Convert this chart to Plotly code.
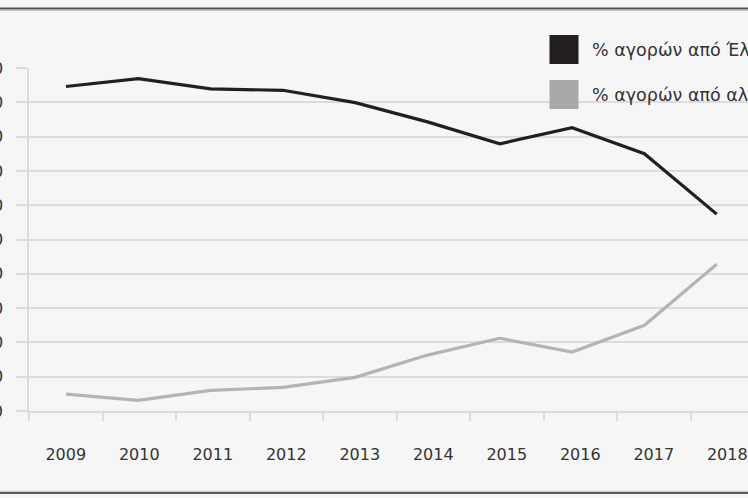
import plotly.graph_objects as go

years = ["2009", "2010", "2011", "2012", "2013", "2014", "2015", "2016", "2017", "2018"]
greek_buyers = [94.6, 96.9, 93.9, 93.5, 89.9, 84.3, 77.9, 82.6, 75.0, 57.4]
foreign_buyers = [4.9, 3.1, 6.0, 6.9, 9.8, 16.3, 21.2, 17.2, 25.0, 42.8]
series_names = ["% αγορών από Έλληνες", "% αγορών από αλλοδαπούς"]
y_ticks = [0, 10, 20, 30, 40, 50, 60, 70, 80, 90, 100]

BLACK = "#231f20"
GRAY_LINE = "#b4b4b4"
GRAY_BOX = "#a9a9a9"
GRID = "#dcdcdc"
BG = "#f6f6f6"
FONT = "DejaVu Sans"
FS = 16
FS_LEG = 17.5
TXT = "#333333"

W, H = 748, 498
L, R, T, B = 29, 0, 68, 87
pw, ph = W - L - R, H - T - B


def px_x(x):
    return (x - L) / pw


def px_y(y):
    return (H - B - y) / ph


fig = go.Figure()
# empty trace that attaches the labelled axis pair (x, y)
fig.add_trace(go.Scatter(x=[], y=[], xaxis="x", yaxis="y", showlegend=False, hoverinfo="skip"))
fig.add_trace(go.Scatter(x=years, y=greek_buyers, name=series_names[0], mode="lines",
                         line=dict(color=BLACK, width=3.2), xaxis="x2", yaxis="y",
                         showlegend=False))
fig.add_trace(go.Scatter(x=years, y=foreign_buyers, name=series_names[1], mode="lines",
                         line=dict(color=GRAY_LINE, width=3.2), xaxis="x2", yaxis="y",
                         showlegend=False))

shapes = [
    # frame lines
    dict(type="line", xref="paper", yref="paper", x0=px_x(0), x1=px_x(W), y0=px_y(8.5), y1=px_y(8.5),
         line=dict(color="#555555", width=2)),
    dict(type="line", xref="paper", yref="paper", x0=px_x(0), x1=px_x(W), y0=px_y(10.5), y1=px_y(10.5),
         line=dict(color="#c4c4c4", width=1)),
    dict(type="line", xref="paper", yref="paper", x0=px_x(0), x1=px_x(W), y0=px_y(491.3), y1=px_y(491.3),
         line=dict(color="#c4c4c4", width=1)),
    dict(type="line", xref="paper", yref="paper", x0=px_x(0), x1=px_x(W), y0=px_y(493), y1=px_y(493),
         line=dict(color="#5a5a5a", width=2)),
    # legend boxes
    dict(type="rect", xref="paper", yref="paper", x0=px_x(549.5), x1=px_x(578.5), y0=px_y(64), y1=px_y(35),
         fillcolor=BLACK, line=dict(width=0)),
    dict(type="rect", xref="paper", yref="paper", x0=px_x(549.5), x1=px_x(578.5), y0=px_y(109), y1=px_y(80),
         fillcolor=GRAY_BOX, line=dict(width=0)),
]

annotations = [
    dict(xref="paper", yref="paper", x=px_x(590), y=px_y(50), xanchor="left", yanchor="middle",
         text=series_names[0], showarrow=False, font=dict(family=FONT, size=FS_LEG, color=TXT)),
    dict(xref="paper", yref="paper", x=px_x(590), y=px_y(95), xanchor="left", yanchor="middle",
         text=series_names[1], showarrow=False, font=dict(family=FONT, size=FS_LEG, color=TXT)),
]

positions = list(range(len(years)))
boundaries = [p - 0.5 for p in range(len(years) + 1)]

fig.update_layout(
    width=W, height=H,
    margin=dict(l=L, r=R, t=T, b=B, autoexpand=False),
    paper_bgcolor=BG, plot_bgcolor=BG,
    font=dict(family=FONT, size=FS, color=TXT),
    showlegend=False,
    shapes=shapes,
    annotations=annotations,
    xaxis=dict(
        type="linear",
        range=[-0.5, -0.5 + pw / 73.5],
        tickvals=positions, ticktext=years, ticks="",
        minor=dict(tickvals=boundaries, ticks="outside", ticklen=8, tickcolor=GRID,
                   tickwidth=1.5, showgrid=False),
        showgrid=False, zeroline=False, showline=True, linecolor=GRID, linewidth=1.5,
        ticklabelstandoff=28, tickfont=dict(family=FONT, size=FS, color=TXT),
        fixedrange=True,
    ),
    xaxis2=dict(
        type="category", categoryorder="array", categoryarray=years,
        overlaying="x", visible=False,
        range=[-37 / 72.3, -37 / 72.3 + pw / 72.3],
    ),
    yaxis=dict(
        range=[0, 100], tickvals=y_ticks,
        showgrid=True, gridcolor=GRID, gridwidth=1.5,
        ticks="outside", ticklen=11, tickcolor=GRID, tickwidth=1.5,
        showline=True, linecolor=GRID, linewidth=1.5,
        zeroline=False,
        ticklabelstandoff=10, tickfont=dict(family=FONT, size=FS, color=TXT),
    ),
)

fig.write_html("out.html", config={"displayModeBar": False},
               post_script="document.body.style.margin='0';document.body.style.background='%s';" % BG)
